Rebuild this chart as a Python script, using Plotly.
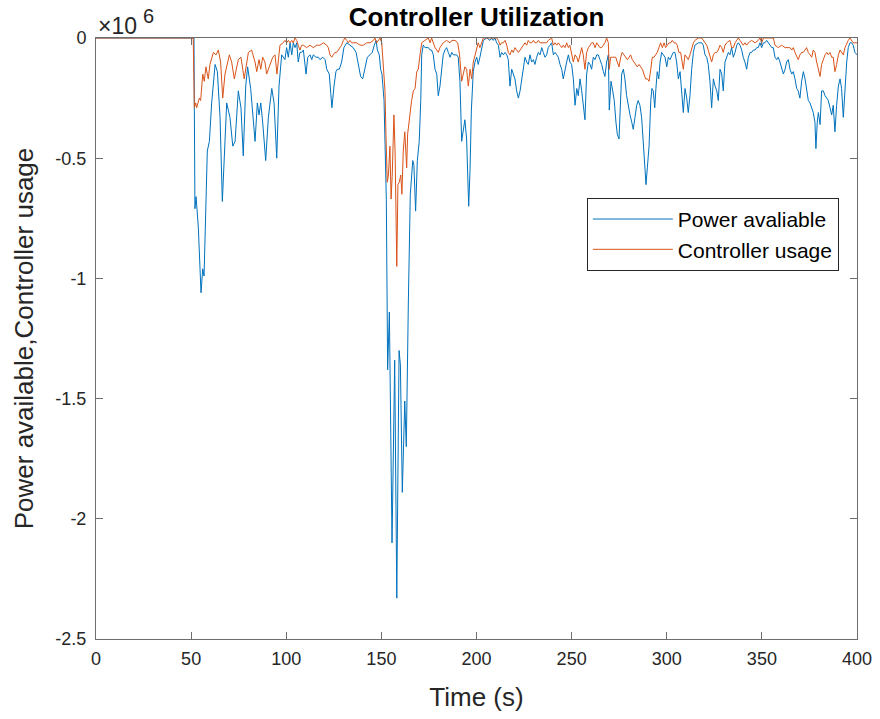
import plotly.graph_objects as go

# Time base and power available (units of 10^6)
t_power = [
    0.0, 51.5, 51.7, 52.0, 52.6, 53.8, 55.2, 56.1, 56.8, 58.5,
    59.6, 60.8, 62.6, 63.8, 65.2, 66.4, 68.7, 70.4, 71.9, 73.1,
    74.8, 76.2, 77.4, 78.7, 79.7, 81.3, 83.6, 84.8, 85.7, 86.6,
    87.6, 89.2, 90.6, 92.4, 93.6, 95.0, 96.2, 97.6, 99.3, 100.2,
    101.1, 102.0, 102.9, 103.7, 104.6, 105.5, 106.3, 107.2, 108.1, 109.0,
    110.4, 111.3, 112.5, 113.4, 114.2, 115.6, 116.9, 117.7, 119.2, 120.4,
    121.3, 122.6, 123.4, 124.0, 125.1, 126.1, 126.8, 127.9, 129.1, 130.3,
    131.8, 133.5, 135.2, 136.7, 137.9, 139.1, 140.2, 141.4, 142.6, 144.0,
    145.2, 146.3, 147.2, 147.9, 148.9, 149.6, 150.3, 151.4, 152.1, 152.6,
    153.3, 154.2, 155.6, 157.0, 158.1, 159.3, 160.0, 161.0, 162.3, 163.1,
    164.2, 165.2, 166.5, 167.1, 168.0, 168.9, 169.9, 170.7, 171.2, 172.0,
    172.9, 173.8, 174.7, 175.6, 176.4, 177.3, 178.2, 179.1, 179.9, 180.8,
    181.7, 182.5, 183.4, 184.3, 185.2, 186.1, 187.0, 187.8, 188.7, 189.6,
    190.4, 191.3, 192.2, 193.1, 193.9, 194.8, 195.9, 196.6, 197.3, 198.3,
    199.2, 200.1, 200.9, 201.8, 202.7, 203.6, 205.4, 207.1, 208.0, 208.8,
    209.7, 210.6, 211.5, 212.4, 213.2, 214.1, 215.0, 215.9, 216.7, 217.6,
    218.5, 219.3, 220.2, 221.1, 222.0, 222.9, 223.8, 224.6, 225.5, 226.4,
    227.2, 228.1, 229.0, 229.9, 230.7, 231.6, 232.5, 233.4, 234.3, 235.1,
    236.0, 236.9, 237.7, 238.6, 239.5, 240.4, 241.3, 242.2, 243.0, 243.9,
    244.8, 245.6, 246.5, 247.4, 248.3, 249.1, 250.0, 250.9, 251.8, 252.7,
    253.5, 254.4, 255.3, 256.1, 257.0, 257.9, 258.8, 259.7, 260.5, 261.4,
    262.3, 263.2, 264.0, 264.9, 265.8, 266.7, 267.5, 268.4, 269.3, 269.8,
    270.7, 271.6, 272.4, 273.3, 274.0, 274.9, 275.6, 276.3, 277.2, 278.0,
    278.9, 279.8, 280.7, 281.6, 282.4, 283.3, 284.2, 285.0, 285.9, 286.8,
    287.7, 288.6, 289.1, 289.8, 290.7, 291.6, 292.2, 292.9, 293.7, 294.3,
    295.0, 295.8, 296.5, 297.3, 298.2, 299.1, 300.0, 300.8, 301.7, 302.6,
    303.4, 304.3, 305.2, 306.1, 307.0, 307.8, 308.7, 309.6, 310.5, 311.3,
    312.2, 313.1, 314.0, 314.8, 316.6, 318.4, 319.2, 320.1, 321.0, 321.8,
    322.7, 323.6, 324.5, 325.4, 326.3, 327.1, 328.0, 328.9, 329.7, 330.6,
    331.5, 332.4, 333.2, 334.1, 335.0, 335.9, 336.8, 337.6, 338.5, 339.4,
    340.2, 341.1, 342.0, 342.9, 343.8, 344.6, 345.5, 346.4, 347.3, 348.1,
    349.0, 349.9, 350.8, 351.6, 352.5, 353.4, 354.3, 355.2, 356.0, 356.9,
    357.8, 358.6, 359.5, 360.4, 361.3, 362.2, 363.0, 363.9, 364.8, 365.7,
    366.5, 367.4, 368.3, 369.1, 370.0, 370.9, 371.8, 372.7, 373.5, 374.4,
    375.3, 376.2, 377.0, 377.9, 378.4, 379.1, 379.7, 380.6, 381.4, 382.3,
    383.2, 384.1, 384.9, 385.8, 386.7, 387.5, 388.4, 389.3, 390.2, 391.1,
    391.9, 392.8, 393.7, 394.6, 395.4, 396.3, 397.2, 398.0, 398.9, 400.0,
]
power_available = [
    0.00, 0.00, -0.30, -0.71, -0.66, -0.79, -1.06, -0.96, -0.99, -0.47,
    -0.43, -0.27, -0.11, -0.14, -0.33, -0.68, -0.27, -0.33, -0.45, -0.43,
    -0.22, -0.29, -0.49, -0.20, -0.12, -0.21, -0.43, -0.27, -0.32, -0.27,
    -0.35, -0.51, -0.33, -0.21, -0.27, -0.50, -0.20, -0.07, -0.09, -0.04,
    -0.08, -0.02, -0.07, -0.02, -0.04, -0.02, -0.10, -0.06, -0.06, -0.05,
    -0.15, -0.08, -0.07, -0.09, -0.07, -0.08, -0.08, -0.09, -0.08, -0.09,
    -0.13, -0.15, -0.23, -0.29, -0.20, -0.14, -0.13, -0.13, -0.10, -0.04,
    -0.02, -0.03, -0.04, -0.06, -0.11, -0.16, -0.17, -0.12, -0.08, -0.07,
    -0.06, -0.03, -0.01, -0.05, -0.07, -0.13, -0.15, -0.26, -0.47, -0.67,
    -1.38, -1.14, -2.10, -1.34, -2.33, -1.30, -1.36, -1.89, -1.51, -1.70,
    -1.09, -0.65, -0.51, -0.53, -0.72, -0.51, -0.43, -0.26, -0.07, -0.03,
    -0.04, -0.04, -0.04, -0.05, -0.05, -0.07, -0.13, -0.15, -0.24, -0.20,
    -0.13, -0.07, -0.05, -0.04, -0.06, -0.08, -0.06, -0.07, -0.07, -0.07,
    -0.08, -0.18, -0.43, -0.38, -0.34, -0.42, -0.70, -0.55, -0.30, -0.14,
    -0.10, -0.08, -0.11, -0.08, -0.04, -0.01, 0.00, -0.01, 0.00, -0.01,
    0.00, -0.02, -0.03, -0.08, -0.06, -0.07, -0.06, -0.07, -0.09, -0.20,
    -0.13, -0.15, -0.17, -0.22, -0.25, -0.22, -0.17, -0.11, -0.08, -0.10,
    -0.11, -0.07, -0.10, -0.09, -0.11, -0.08, -0.06, -0.07, -0.04, -0.06,
    -0.08, -0.07, -0.04, -0.03, -0.02, -0.07, -0.06, -0.07, -0.08, -0.11,
    -0.13, -0.17, -0.13, -0.10, -0.07, -0.10, -0.11, -0.17, -0.28, -0.21,
    -0.24, -0.17, -0.22, -0.29, -0.34, -0.15, -0.10, -0.11, -0.13, -0.08,
    -0.09, -0.07, -0.07, -0.09, -0.11, -0.14, -0.16, -0.10, -0.07, -0.30,
    -0.18, -0.22, -0.26, -0.35, -0.40, -0.42, -0.29, -0.15, -0.13, -0.17,
    -0.24, -0.29, -0.32, -0.35, -0.38, -0.33, -0.28, -0.26, -0.28, -0.33,
    -0.46, -0.57, -0.61, -0.54, -0.45, -0.26, -0.21, -0.22, -0.29, -0.21,
    -0.14, -0.17, -0.10, -0.06, -0.07, -0.08, -0.12, -0.08, -0.09, -0.07,
    -0.06, -0.06, -0.10, -0.17, -0.14, -0.22, -0.31, -0.21, -0.25, -0.31,
    -0.24, -0.13, -0.06, -0.03, -0.02, -0.02, -0.03, -0.07, -0.08, -0.11,
    -0.18, -0.29, -0.17, -0.20, -0.22, -0.26, -0.13, -0.15, -0.22, -0.10,
    -0.08, -0.06, -0.07, -0.04, -0.08, -0.06, -0.03, -0.02, -0.03, -0.05,
    -0.08, -0.10, -0.13, -0.08, -0.06, -0.06, -0.05, -0.05, -0.04, -0.04,
    -0.02, -0.04, -0.02, -0.02, -0.01, -0.02, -0.03, -0.04, -0.04, -0.08,
    -0.09, -0.08, -0.10, -0.13, -0.15, -0.13, -0.10, -0.09, -0.13, -0.15,
    -0.14, -0.17, -0.21, -0.22, -0.25, -0.18, -0.14, -0.17, -0.22, -0.26,
    -0.27, -0.29, -0.31, -0.35, -0.46, -0.35, -0.31, -0.36, -0.22, -0.22,
    -0.24, -0.25, -0.26, -0.29, -0.32, -0.28, -0.39, -0.28, -0.20, -0.17,
    -0.21, -0.33, -0.20, -0.10, -0.04, -0.02, -0.02, -0.03, -0.06, -0.07,
]

# Time base and controller usage (units of 10^6)
t_ctrl = [
    0.0, 51.1, 51.7, 52.4, 52.9, 54.3, 55.0, 56.1, 56.9, 57.8,
    59.0, 59.9, 61.7, 63.1, 64.3, 65.5, 66.6, 67.8, 70.1, 71.3,
    72.7, 74.8, 76.2, 77.9, 80.1, 81.8, 83.6, 84.5, 85.7, 86.6,
    87.6, 88.8, 89.7, 91.1, 92.9, 94.1, 95.1, 96.7, 98.4, 99.3,
    100.2, 101.1, 102.0, 102.9, 103.7, 104.6, 105.5, 106.3, 107.2, 108.1,
    109.0, 110.7, 112.5, 114.2, 116.0, 117.7, 119.5, 121.3, 122.1, 123.0,
    123.9, 124.7, 125.6, 126.5, 127.4, 128.2, 129.1, 130.0, 130.9, 131.8,
    132.6, 133.5, 134.4, 135.2, 137.0, 138.8, 140.5, 142.3, 144.0, 145.8,
    146.6, 147.5, 148.4, 149.3, 150.2, 151.0, 151.9, 152.4, 153.1, 153.7,
    154.5, 155.1, 155.7, 156.6, 157.2, 158.1, 158.7, 159.4, 160.2, 160.8,
    161.5, 162.3, 162.9, 163.3, 163.8, 164.7, 165.9, 166.8, 167.7, 168.6,
    169.4, 170.3, 171.2, 172.9, 174.7, 175.6, 176.4, 177.3, 178.2, 179.1,
    179.9, 180.8, 181.7, 182.5, 184.3, 186.1, 187.0, 188.7, 190.1, 191.1,
    192.2, 193.1, 193.9, 194.8, 195.7, 196.6, 197.5, 198.3, 199.5, 200.1,
    200.9, 201.8, 202.7, 203.6, 205.4, 207.1, 208.8, 210.6, 211.5, 212.4,
    213.2, 214.1, 215.0, 215.9, 216.7, 217.6, 218.5, 219.3, 220.2, 221.1,
    222.0, 222.9, 223.8, 224.6, 225.5, 226.4, 227.2, 228.1, 229.0, 229.9,
    230.7, 231.6, 232.5, 233.4, 234.3, 236.0, 236.9, 237.7, 239.5, 240.4,
    241.3, 242.2, 243.0, 243.9, 244.8, 245.6, 246.5, 247.4, 248.3, 249.1,
    250.0, 250.9, 251.8, 252.7, 253.5, 254.4, 255.3, 256.1, 257.0, 257.9,
    258.8, 259.7, 260.5, 261.4, 262.3, 263.2, 264.0, 264.9, 265.8, 266.7,
    267.5, 268.4, 269.3, 269.8, 270.5, 271.4, 272.3, 273.2, 274.0, 274.9,
    275.8, 276.6, 277.5, 278.4, 279.3, 280.2, 281.0, 281.9, 282.8, 283.7,
    284.5, 285.4, 286.3, 287.2, 288.0, 288.9, 289.8, 290.7, 291.6, 292.4,
    293.3, 294.2, 295.0, 295.9, 296.8, 297.7, 298.6, 299.4, 300.3, 301.2,
    302.1, 302.9, 303.8, 304.7, 305.5, 306.4, 307.3, 308.7, 309.6, 310.5,
    311.3, 312.2, 313.1, 314.0, 314.8, 316.6, 318.4, 319.2, 320.1, 321.0,
    321.8, 322.7, 323.6, 324.5, 325.4, 326.3, 327.1, 328.0, 328.9, 329.7,
    330.6, 331.5, 333.2, 334.1, 335.0, 335.9, 336.8, 337.6, 338.5, 339.4,
    340.2, 341.1, 342.0, 342.9, 344.6, 346.4, 348.1, 349.0, 349.9, 350.8,
    352.5, 354.3, 356.0, 356.9, 358.6, 360.4, 362.2, 363.9, 364.8, 365.7,
    366.5, 367.4, 368.3, 369.1, 370.0, 370.9, 371.8, 372.7, 373.5, 374.4,
    375.3, 376.2, 377.0, 377.9, 378.8, 379.7, 380.6, 381.4, 382.3, 383.2,
    384.1, 384.9, 385.8, 386.7, 387.5, 388.4, 389.3, 390.2, 391.1, 391.9,
    392.8, 393.7, 394.6, 395.4, 396.3, 397.2, 398.0, 398.9, 400.0,
]
controller_usage = [
    0.00, 0.00, -0.29, -0.27, -0.29, -0.25, -0.26, -0.15, -0.18, -0.12,
    -0.17, -0.11, -0.06, -0.07, -0.05, -0.10, -0.25, -0.15, -0.07, -0.10,
    -0.17, -0.09, -0.08, -0.17, -0.06, -0.05, -0.10, -0.14, -0.09, -0.13,
    -0.08, -0.10, -0.15, -0.12, -0.08, -0.07, -0.15, -0.03, -0.02, -0.01,
    -0.02, -0.01, -0.02, -0.01, -0.02, 0.00, -0.01, -0.03, -0.05, -0.03,
    -0.03, -0.04, -0.03, -0.04, -0.03, -0.03, -0.02, -0.03, -0.04, -0.07,
    -0.08, -0.07, -0.06, -0.06, -0.05, -0.04, -0.03, -0.01, 0.00, -0.01,
    -0.02, -0.01, -0.02, -0.02, -0.02, -0.03, -0.03, -0.02, -0.02, -0.01,
    0.00, -0.02, -0.01, 0.00, -0.02, -0.10, -0.22, -0.40, -0.60, -0.57,
    -0.45, -0.67, -0.57, -0.32, -0.47, -0.95, -0.61, -0.60, -0.57, -0.65,
    -0.47, -0.39, -0.47, -0.54, -0.40, -0.33, -0.26, -0.22, -0.21, -0.14,
    -0.13, -0.07, -0.02, -0.01, 0.00, -0.02, 0.00, -0.02, -0.04, -0.05,
    -0.06, -0.04, -0.03, -0.02, -0.01, -0.02, -0.01, -0.01, -0.02, -0.07,
    -0.18, -0.14, -0.12, -0.13, -0.20, -0.13, -0.17, -0.10, -0.06, -0.04,
    -0.02, -0.04, -0.02, 0.00, 0.00, 0.00, 0.00, 0.00, -0.01, -0.03,
    -0.02, -0.02, -0.01, -0.03, -0.06, -0.07, -0.05, -0.06, -0.04, -0.05,
    -0.06, -0.05, -0.04, -0.03, -0.02, -0.03, -0.01, -0.02, -0.02, -0.01,
    -0.02, -0.02, -0.01, -0.02, -0.02, -0.02, -0.02, -0.01, 0.00, -0.03,
    -0.02, -0.03, -0.02, -0.03, -0.04, -0.03, -0.04, -0.02, -0.04, -0.03,
    -0.06, -0.10, -0.07, -0.08, -0.10, -0.07, -0.04, -0.07, -0.13, -0.06,
    -0.04, -0.03, -0.02, -0.02, -0.04, -0.02, -0.03, -0.04, -0.04, -0.03,
    -0.02, 0.00, -0.02, -0.13, -0.08, -0.08, -0.08, -0.08, -0.10, -0.12,
    -0.08, -0.06, -0.07, -0.08, -0.09, -0.08, -0.07, -0.09, -0.10, -0.11,
    -0.12, -0.11, -0.12, -0.13, -0.15, -0.17, -0.17, -0.18, -0.13, -0.08,
    -0.08, -0.07, -0.06, -0.04, -0.02, -0.04, -0.02, -0.04, -0.03, -0.02,
    -0.02, -0.01, -0.02, -0.02, -0.03, -0.06, -0.06, -0.13, -0.07, -0.08,
    -0.09, -0.07, -0.04, -0.02, -0.01, 0.00, 0.00, -0.01, -0.02, -0.03,
    -0.05, -0.08, -0.10, -0.07, -0.06, -0.06, -0.05, -0.03, -0.04, -0.06,
    -0.03, -0.02, -0.01, -0.04, -0.04, -0.02, -0.01, 0.00, -0.01, -0.02,
    -0.03, -0.02, -0.03, -0.02, -0.01, -0.02, -0.01, 0.00, -0.02, 0.00,
    0.00, 0.00, 0.00, -0.03, -0.04, -0.03, -0.04, -0.04, -0.04, -0.05,
    -0.04, -0.06, -0.08, -0.09, -0.07, -0.06, -0.06, -0.05, -0.04, -0.06,
    -0.07, -0.08, -0.05, -0.06, -0.10, -0.13, -0.16, -0.11, -0.09, -0.07,
    -0.06, -0.07, -0.06, -0.08, -0.08, -0.14, -0.11, -0.07, -0.05, -0.06,
    -0.07, -0.04, -0.02, -0.01, 0.00, -0.01, -0.02, -0.02, -0.02,
]

x_ticks = [0, 50, 100, 150, 200, 250, 300, 350, 400]
y_ticks = [-2.5, -2, -1.5, -1, -0.5, 0]
y_tick_text = ["-2.5", "-2", "-1.5", "-1", "-0.5", "0"]

FONT = "Liberation Sans, Arial, Helvetica, sans-serif"
INK = "#262626"
FRAME = "#6e6e6e"

fig = go.Figure()
fig.add_trace(go.Scatter(x=t_power, y=power_available, mode="lines",
                         name="Power avaliable",
                         line=dict(color="#0072BD", width=1)))
fig.add_trace(go.Scatter(x=t_ctrl, y=controller_usage, mode="lines",
                         name="Controller usage",
                         line=dict(color="#D95319", width=1)))

axis_common = dict(
    showgrid=False, zeroline=False, showline=True, mirror="ticks",
    linecolor=FRAME, linewidth=1, ticks="inside", ticklen=7,
    tickcolor=FRAME, tickwidth=1, automargin=False,
    tickfont=dict(family=FONT, size=18, color=INK),
)

fig.update_layout(
    width=880, height=719,
    margin=dict(l=96, r=23, t=38, b=80, autoexpand=False),
    paper_bgcolor="white", plot_bgcolor="white",
    font=dict(family=FONT, color=INK),
    title=dict(text="<b>Controller Utilization</b>",
               x=0.5, xref="paper", xanchor="center",
               y=1 - 17 / 719, yref="container", yanchor="middle",
               font=dict(family=FONT, size=26, color="black")),
    xaxis=dict(range=[0, 400], tickvals=x_ticks, ticklabelstandoff=3,
               title=dict(text="Time (s)", font=dict(family=FONT, size=26, color=INK),
                          standoff=20),
               **axis_common),
    yaxis=dict(range=[-2.5, 0], tickvals=y_ticks, ticktext=y_tick_text,
               ticklabelstandoff=5,
               title=dict(text="Power available,Controller usage",
                          font=dict(family=FONT, size=26, color=INK), standoff=14),
               **axis_common),
    legend=dict(x=0.645, y=0.734, xanchor="left", yanchor="top",
                bgcolor="white", bordercolor=INK, borderwidth=1,
                font=dict(family=FONT, size=21, color="black"),
                itemwidth=80, tracegroupgap=0),
    showlegend=True,
    annotations=[
        dict(text="×10", x=0, y=1, xref="paper", yref="paper",
             xanchor="left", yanchor="bottom", showarrow=False, yshift=-3,
             font=dict(family=FONT, size=23, color=INK)),
        dict(text="6", x=0, y=1, xref="paper", yref="paper",
             xanchor="left", yanchor="bottom", showarrow=False,
             xshift=45, yshift=9,
             font=dict(family=FONT, size=20, color=INK)),
    ],
)

fig.write_html("out.html")
